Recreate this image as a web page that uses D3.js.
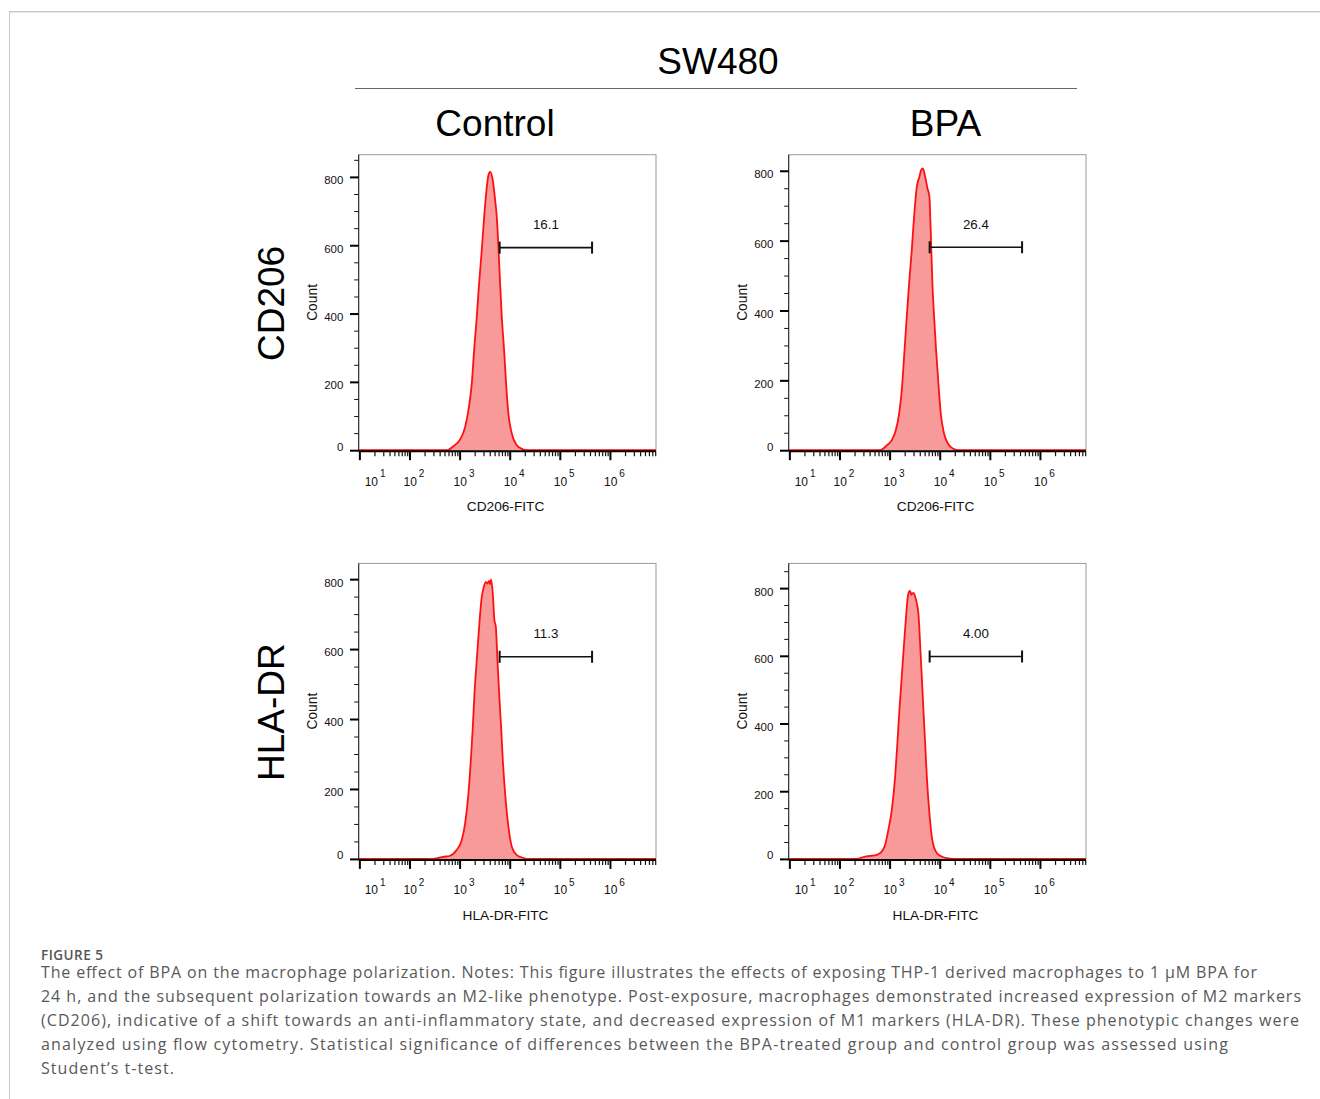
<!DOCTYPE html>
<html>
<head>
<meta charset="utf-8">
<script src="https://cdn.jsdelivr.net/npm/d3@7"></script>
<style>
  html, body { margin: 0; padding: 0; background: #fff; }
  svg { display: block; }
  .arial { font-family: "Liberation Sans", Arial, sans-serif; }
</style>
</head>
<body>
<script>
//data
var markers = ["CD206", "HLA-DR"];
var groups = ["Control", "BPA"];
var channelLabels = ["CD206-FITC", "HLA-DR-FITC"];
var gatePercent = ["16.1", "26.4", "11.3", "4.00"];   // row by row
var gateRange = [6300, 440000];
var gateCount = [593, 581, 578, 598];
var yMax = [865, 846, 845, 873];
var xDomain = [9.7, 8.3e6];
var yTickValues = [0, 200, 400, 600, 800];
var xDecades = [10, 100, 1000, 10000, 100000, 1000000];
var xDecadeExp = ["1", "2", "3", "4", "5", "6"];

// [intensity, count]
var cd206Control = [
    [555, 0], [752, 12], [1020, 31], [1290, 68], [1500, 117], [1750, 195],
    [1950, 293], [2200, 390], [2450, 488], [2770, 586], [3090, 683], [3390, 752],
    [3760, 805], [4060, 815], [4590, 791], [5120, 732], [5520, 683], [5960, 595],
    [6430, 488], [6950, 390], [7730, 293], [8470, 195], [9420, 107], [11000, 49],
    [13800, 15], [17400, 4], [21900, 0]
];
var cd206Bpa = [
    [646, 0], [879, 14], [1107, 29], [1330, 57], [1550, 105], [1750, 172],
    [1945, 267], [2200, 382], [2450, 477], [2770, 573], [3080, 668], [3490, 754],
    [3940, 783], [4260, 802], [4600, 807], [5120, 783], [5690, 750], [6230, 726],
    [6640, 621], [7150, 477], [7730, 382], [8470, 286], [9420, 191], [10500, 105],
    [12200, 48], [14900, 17], [18800, 4], [23600, 0]
];
var hladrControl = [
    [300, 0], [475, 6], [646, 9], [879, 26], [1107, 54], [1290, 102], [1500, 187],
    [1675, 282], [1835, 377], [1980, 472], [2200, 568], [2450, 663], [2770, 749],
    [2990, 773], [3330, 792], [3590, 787], [3880, 795], [4060, 785], [4260, 799],
    [4600, 759], [4950, 683], [5280, 664], [5690, 569], [6150, 474], [6730, 378],
    [7280, 283], [8090, 188], [9420, 92], [11000, 35], [13900, 11], [17500, 4],
    [22000, 0]
];
var hladrBpa = [
    [221, 0], [324, 7], [408, 9], [555, 12], [698, 22], [813, 41], [946, 86],
    [1107, 145], [1290, 243], [1430, 342], [1570, 440], [1750, 539], [1945, 637],
    [2130, 716], [2310, 775], [2450, 790], [2570, 792], [2690, 780], [2850, 785],
    [3040, 785], [3230, 775], [3490, 755], [3760, 725], [4060, 637], [4390, 539],
    [4730, 440], [5120, 342], [5530, 243], [6150, 145], [6950, 66], [8090, 26],
    [10200, 9], [13900, 2], [18800, 0]
];
var histograms = [cd206Control, cd206Bpa, hladrControl, hladrBpa];

var captionHead = "FIGURE 5";
var captionLines = [
    "The effect of BPA on the macrophage polarization. Notes: This figure illustrates the effects of exposing THP-1 derived macrophages to 1 \u00b5M BPA for",
    "24 h, and the subsequent polarization towards an M2-like phenotype. Post-exposure, macrophages demonstrated increased expression of M2 markers",
    "(CD206), indicative of a shift towards an anti-inflammatory state, and decreased expression of M1 markers (HLA-DR). These phenotypic changes were",
    "analyzed using flow cytometry. Statistical significance of differences between the BPA-treated group and control group was assessed using",
    "Student\u2019s t-test."
];
var captionWidths = [1216, 1260, 1258, 1187, 133];

//layout
var width = 1320, height = 1099;
var W = 297.3, H = 295.5;
var colLeft = [358.7, 788.7];
var rowTop = [154.7, 563.4];
var groupTitleX = [495, 945.5];

var svg = d3.select("body").append("svg")
    .attr("width", width)
    .attr("height", height);

//page border
svg.append("line").attr("x1", 9).attr("x2", width).attr("y1", 11.5).attr("y2", 11.5)
    .attr("stroke", "#c8c8c8").attr("stroke-width", 1);
svg.append("line").attr("x1", 9).attr("x2", width).attr("y1", 12.5).attr("y2", 12.5)
    .attr("stroke", "#e8e8e8").attr("stroke-width", 1);
svg.append("line").attr("x1", 9.5).attr("x2", 9.5).attr("y1", 11).attr("y2", height)
    .attr("stroke", "#c8c8c8").attr("stroke-width", 1);

//titles
svg.append("text").attr("class", "arial")
    .attr("x", 718).attr("y", 74)
    .attr("text-anchor", "middle")
    .attr("font-size", "37px").attr("fill", "#000")
    .text("SW480");
svg.append("line").attr("x1", 355).attr("x2", 1077).attr("y1", 88.5).attr("y2", 88.5)
    .attr("stroke", "#666").attr("stroke-width", 1);

svg.selectAll(".groupTitle")
    .data(groups)
    .enter().append("text")
    .attr("class", "arial groupTitle")
    .attr("x", function (d, i) { return groupTitleX[i]; })
    .attr("y", 136)
    .attr("text-anchor", "middle")
    .attr("font-size", "37px")
    .text(function (d) { return d; });

svg.selectAll(".markerTitle")
    .data(markers)
    .enter().append("text")
    .attr("class", "arial markerTitle")
    .attr("transform", function (d, i) {
        return "translate(283.5," + (rowTop[i] + H / 2 + 1) + ") rotate(-90)";
    })
    .attr("text-anchor", "middle")
    .attr("font-size", "37px")
    .text(function (d) { return d; });

//panels
var majorSet = new Set(xDecades);

histograms.forEach(function (data, idx) {
    var r = Math.floor(idx / 2), c = idx % 2;

    var x = d3.scaleLog().domain(xDomain).range([0, W]);
    var y = d3.scaleLinear().domain([0, yMax[idx]]).range([H, 0]);

    var g = svg.append("g")
        .attr("transform", "translate(" + colLeft[c] + "," + rowTop[r] + ")");

    g.append("rect")
        .attr("width", W).attr("height", H)
        .attr("fill", "#fff")
        .attr("stroke", "#9a9a9a").attr("stroke-width", 1);

    //histogram
    var pts = [[xDomain[0], 0]].concat(data, [[xDomain[1], 0]]);
    var area = d3.area()
        .x(function (d) { return x(d[0]); })
        .y0(H)
        .y1(function (d) { return y(d[1]); })
        .curve(d3.curveMonotoneX);
    var line = d3.line()
        .x(function (d) { return x(d[0]); })
        .y(function (d) { return y(d[1]); })
        .curve(d3.curveMonotoneX);

    g.append("path").datum(pts)
        .attr("d", area)
        .attr("fill", "#f99a9a");
    g.append("path").datum(pts)
        .attr("d", line)
        .attr("fill", "none")
        .attr("stroke", "#ff1010")
        .attr("stroke-width", 1.8)
        .attr("stroke-linejoin", "round");

    //left axis line
    g.append("line").attr("x1", 0).attr("x2", 0).attr("y1", 0).attr("y2", H + 1)
        .attr("stroke", "#222").attr("stroke-width", 1);

    //y axis
    var yMinor = d3.range(50, yMax[idx], 50).filter(function (v) { return v % 200 !== 0; });
    g.append("g")
        .call(d3.axisLeft(y).tickValues(yMinor).tickSize(4.5).tickFormat(""))
        .call(function (a) { a.select(".domain").remove(); })
        .selectAll("line").attr("stroke", "#111").attr("stroke-width", 1);

    var yAx = g.append("g")
        .call(d3.axisLeft(y).tickValues(yTickValues).tickSize(8.7).tickPadding(6.6))
        .call(function (a) { a.select(".domain").remove(); });
    yAx.selectAll("line").attr("stroke", "#000").attr("stroke-width", 2);
    yAx.selectAll("text")
        .attr("font-family", "Liberation Sans, Arial, sans-serif")
        .attr("font-size", "11.5px")
        .attr("fill", "#111")
        .attr("dy", function (d) { return d === 0 ? "0em" : "0.6em"; });

    g.append("text").attr("class", "arial")
        .attr("transform", "translate(-42," + (H / 2) + ") rotate(-90)")
        .attr("text-anchor", "middle")
        .attr("font-size", "13.8px")
        .attr("fill", "#111")
        .text("Count");

    //x axis
    var xAxG = g.append("g").attr("transform", "translate(0," + (H + 1) + ")");
    xAxG.append("line").attr("x1", 0).attr("x2", W).attr("y1", 0).attr("y2", 0)
        .attr("stroke", "#000").attr("stroke-width", 2);

    var xMinor = x.ticks().filter(function (v) { return !majorSet.has(v); });
    xAxG.append("g")
        .call(d3.axisBottom(x).tickValues(xMinor).tickSize(5).tickFormat(""))
        .call(function (a) { a.select(".domain").remove(); })
        .selectAll("line").attr("stroke", "#111").attr("stroke-width", 1.2);
    xAxG.append("g")
        .call(d3.axisBottom(x).tickValues(xDecades).tickSize(9).tickFormat(""))
        .call(function (a) { a.select(".domain").remove(); })
        .selectAll("line").attr("stroke", "#000").attr("stroke-width", 2);

    var lbl = xAxG.append("g").selectAll(".xLabel")
        .data(xDecades)
        .enter().append("g")
        .attr("transform", function (d, i) {
            return "translate(" + (x(d) + (i === 0 ? 12 : 0.7)) + ",0)";
        });
    lbl.append("text").attr("class", "arial")
        .attr("y", 34.5)
        .attr("text-anchor", "middle")
        .attr("font-size", "12px")
        .attr("fill", "#111")
        .text("10");
    lbl.append("text").attr("class", "arial")
        .attr("x", 8.6)
        .attr("y", 26)
        .attr("font-size", "10px")
        .attr("fill", "#111")
        .text(function (d, i) { return xDecadeExp[i]; });

    g.append("text").attr("class", "arial")
        .attr("x", W / 2 - 1.8)
        .attr("y", H + 61)
        .attr("text-anchor", "middle")
        .attr("font-size", "13.7px")
        .attr("fill", "#111")
        .text(channelLabels[r]);

    //gate
    var gy = y(gateCount[idx]);
    var gx0 = x(gateRange[0]), gx1 = x(gateRange[1]);
    g.append("line").attr("x1", gx0).attr("x2", gx1).attr("y1", gy).attr("y2", gy)
        .attr("stroke", "#111").attr("stroke-width", 1.6);
    g.selectAll(".cap")
        .data([gx0, gx1])
        .enter().append("line")
        .attr("x1", function (d) { return d; })
        .attr("x2", function (d) { return d; })
        .attr("y1", gy - 6).attr("y2", gy + 6)
        .attr("stroke", "#111").attr("stroke-width", 2);
    g.append("text").attr("class", "arial")
        .attr("x", x(Math.sqrt(gateRange[0] * gateRange[1])))
        .attr("y", gy - 18.5)
        .attr("text-anchor", "middle")
        .attr("font-size", "13.3px")
        .attr("fill", "#111")
        .text(gatePercent[idx]);
});

//caption
svg.append("text")
    .attr("x", 41).attr("y", 959.5)
    .attr("font-family", "Open Sans, Lato, sans-serif")
    .attr("font-size", "13.5px")
    .attr("font-weight", 600)
    .attr("fill", "#555")
    .attr("textLength", 62)
    .attr("lengthAdjust", "spacing")
    .text(captionHead);

svg.selectAll(".caption")
    .data(captionLines)
    .enter().append("text")
    .attr("class", "caption")
    .attr("x", 41)
    .attr("y", function (d, i) { return 978 + i * 24; })
    .attr("font-family", "Open Sans, Lato, sans-serif")
    .attr("font-size", "16px")
    .attr("font-weight", 400)
    .attr("fill", "#595959")
    .attr("textLength", function (d, i) { return captionWidths[i]; })
    .attr("lengthAdjust", "spacing")
    .text(function (d) { return d; });
</script>
</body>
</html>
